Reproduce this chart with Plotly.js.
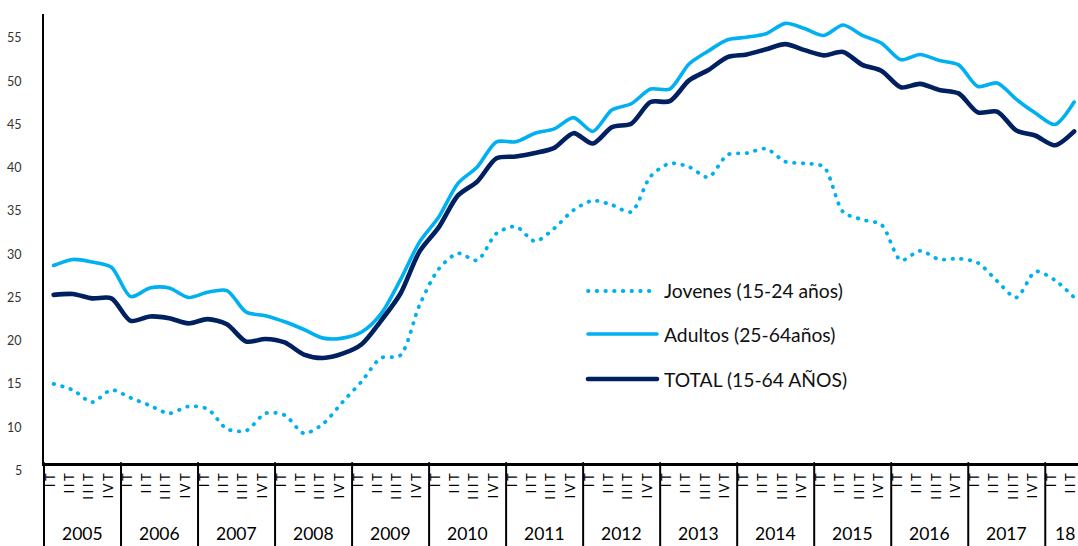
<!DOCTYPE html>
<html>
<head>
<meta charset="utf-8">
<script src="https://cdn.plot.ly/plotly-3.0.1.min.js"></script>
<style>
html,body{margin:0;padding:0;background:#fff;}
.scatterlayer .js-line{stroke-linecap:round;stroke-linejoin:round;}
.shapelayer path{stroke-linecap:round;}
</style>
</head>
<body>
<div id="chart" style="width:1078px;height:546px;"></div>
<script>
// ---- data ----
const years = ["2005","2006","2007","2008","2009","2010","2011","2012","2013","2014","2015","2016","2017","18"];
const quarterNames = ["IT","IIT","IIIT","IVT"];
const quartersPerYear = [4,4,4,4,4,4,4,4,4,4,4,4,4,2];

const jovenes = [15.0,14.3,12.9,14.3, 13.4,12.5,11.6,12.4, 12.1,9.8,9.6,11.6, 11.4,9.3,10.4,12.9,
  15.3,18.0,18.3,24.1, 28.3,30.1,29.3,32.4, 33.2,31.5,33.0,35.1, 36.2,35.7,34.9,39.0,
  40.5,40.1,38.9,41.5, 41.7,42.2,40.7,40.5, 40.1,34.9,34.0,33.4, 29.3,30.4,29.4,29.5,
  29.0,26.9,25.0,28.0, 27.0,25.0];
const adultos = [28.7,29.4,29.1,28.5, 25.1,26.1,26.1,25.0, 25.6,25.8,23.3,22.9, 22.2,21.3,20.3,20.3,
  21.0,23.1,27.0,31.4, 34.3,38.2,40.1,43.0, 43.0,44.0,44.5,45.8, 44.2,46.7,47.4,49.1,
  49.1,52.0,53.5,54.8, 55.1,55.5,56.7,56.1, 55.3,56.5,55.3,54.4, 52.5,53.1,52.4,51.9,
  49.4,49.8,47.9,46.3, 45.0,47.6];
const total = [25.3,25.4,24.9,24.9, 22.3,22.8,22.6,22.0, 22.5,21.9,19.9,20.2, 19.8,18.4,18.0,18.5,
  19.6,22.3,25.4,30.3, 33.1,36.8,38.4,41.1, 41.3,41.7,42.3,44.0, 42.8,44.7,45.1,47.6,
  47.7,50.1,51.3,52.8, 53.1,53.7,54.3,53.6, 53.0,53.4,51.9,51.2, 49.3,49.7,49.0,48.6,
  46.4,46.5,44.3,43.7, 42.6,44.2];
const seriesNames = ["Jovenes (15-24 años)","Adultos (25-64años)","TOTAL (15-64 AÑOS)"];
const yTicks = [10,15,20,25,30,35,40,45,50,55];

// ---- build ----
const qLabels = [];
years.forEach((y,i)=>{ for(let q=0;q<quartersPerYear[i];q++) qLabels.push(quarterNames[q]); });
const xs = qLabels.map((_,i)=>i);
const qTickText = qLabels.map(t => '<span style="letter-spacing:2.6px">' + t + '</span>');

const LIGHT = "#00B0F0", DARK = "#002060";
const xr = [-0.5, 53.2];
const yr = [5.86, 57.78];
const plotH = 546-14-83;
const bottomPaper = -83/plotH;
const toPaperX = v => (v - xr[0])/(xr[1]-xr[0]);
const toPaperY = v => (v - yr[0])/(yr[1]-yr[0]);
const FONT = "Lato, 'Open Sans', sans-serif";

const traces = [
  {x:xs, y:jovenes, name:seriesNames[0], mode:"lines", line:{color:LIGHT, width:3.8, dash:"0.5px,8.2px", shape:"spline", smoothing:0.8}},
  {x:xs, y:adultos, name:seriesNames[1], mode:"lines", line:{color:LIGHT, width:3.6, shape:"spline", smoothing:0.8}},
  {x:xs, y:total, name:seriesNames[2], mode:"lines", line:{color:DARK, width:4.6, shape:"spline", smoothing:0.8}}
];

const shapes = [];
const annotations = [];
// year separators and labels
let start = 0;
years.forEach((yl,i)=>{
  const x0 = start - 0.5;
  shapes.push({type:"line", xref:"paper", yref:"paper", x0:toPaperX(x0), x1:toPaperX(x0), y0:bottomPaper, y1:0, line:{color:"#000", width:2}});
  const xc = start - 0.5 + quartersPerYear[i]/2;
  annotations.push({xref:"paper", yref:"paper", x:toPaperX(xc), y:(463-533)/plotH, text:yl, showarrow:false,
    xanchor:"center", yanchor:"middle", font:{family:FONT, size:17.5, color:"#000"}});
  start += quartersPerYear[i];
});
// "5" tick label, which sits just below the horizontal axis line
annotations.push({xref:"paper", yref:"paper", x:0, xshift:-20, y:toPaperY(5), text:"5", showarrow:false, xanchor:"right", yanchor:"middle",
  font:{family:FONT, size:12.5, color:"#333"}});

// manual legend
const legY = [291, 334, 379];
const legStyles = [
  {color:LIGHT, width:3.8, dash:"0.5px,8.2px"},
  {color:LIGHT, width:3.6},
  {color:DARK, width:4.6}
];
legY.forEach((py,i)=>{
  const yp = (463-py)/plotH;
  shapes.push({type:"line", xref:"paper", yref:"paper", x0:(588-44)/1034, x1:(657-44)/1034, y0:yp, y1:yp, line:legStyles[i]});
  annotations.push({xref:"paper", yref:"paper", x:(662-44)/1034, y:yp, text:seriesNames[i], showarrow:false,
    xanchor:"left", yanchor:"middle", font:{family:FONT, size:19.3, color:"#111"}});
});

const layout = {
  width:1078, height:546,
  margin:{l:44, r:0, t:14, b:83, pad:0},
  paper_bgcolor:"#fff", plot_bgcolor:"#fff",
  showlegend:false,
  xaxis:{range:xr, showline:true, linecolor:"#000", linewidth:2.5, showgrid:false, zeroline:false,
    tickmode:"array", tickvals:xs, ticktext:qTickText, tickangle:-90, ticks:"", ticklabeloverflow:"allow",
    ticklabelshift:-3,
    tickfont:{family:FONT, size:13, color:"#000"}, fixedrange:true},
  yaxis:{range:yr, showline:true, linecolor:"#000", linewidth:2, showgrid:false, zeroline:false,
    tickmode:"array", tickvals:yTicks, ticks:"", ticklabelstandoff:18,
    tickfont:{family:FONT, size:12.5, color:"#333"}, fixedrange:true},
  shapes:shapes,
  annotations:annotations
};

Plotly.newPlot("chart", traces, layout, {displayModeBar:false, staticPlot:true});
</script>
</body>
</html>
